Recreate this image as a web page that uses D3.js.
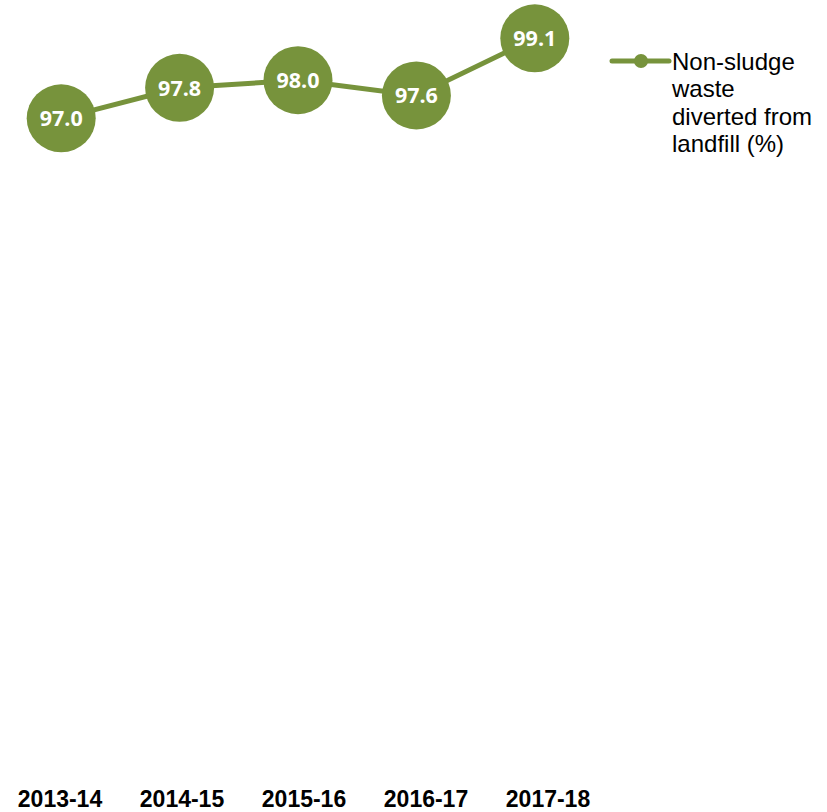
<!DOCTYPE html>
<html>
<head>
<meta charset="utf-8">
<script src="https://cdn.jsdelivr.net/npm/d3@7/dist/d3.min.js"></script>
<style>
  html, body { margin: 0; padding: 0; background: #ffffff; }
  svg { display: block; }
</style>
</head>
<body>
<svg id="chart" width="827" height="812"></svg>
<script>
const categories = ["2013-14", "2014-15", "2015-16", "2016-17", "2017-18"];
const values = [97.0, 97.8, 98.0, 97.6, 99.1];
const seriesName = ["Non-sludge", "waste", "diverted from", "landfill (%)"];
const yDomain = [80, 100];

const color = "#77933C";
const svg = d3.select("#chart");

const x = d3.scaleBand().domain(categories).range([2, 594]);
const xLabels = d3.scaleBand().domain(categories).range([-1, 609]);
const y = d3.scaleLinear().domain(yDomain).range([766, 4]);

const data = categories.map((c, i) => ({ c, v: values[i] }));

// Category axis (no line, no ticks)
const xAxis = d3.axisBottom(xLabels).tickSize(0).tickPadding(0);
const gx = svg.append("g").attr("transform", "translate(0,790)").call(xAxis);
gx.select(".domain").remove();
gx.selectAll("text")
  .attr("dy", 0).attr("y", 17)
  .attr("fill", "#000")
  .style("font-family", "'Liberation Sans', Arial, sans-serif")
  .style("font-weight", "bold")
  .style("font-size", "23px");

// Line
const line = d3.line().x(d => x(d.c) + x.bandwidth() / 2).y(d => y(d.v));
svg.append("path").datum(data)
  .attr("d", line)
  .attr("fill", "none")
  .attr("stroke", color)
  .attr("stroke-width", 5);

// Markers
const m = svg.append("g").selectAll("g").data(data).join("g")
  .attr("transform", d => `translate(${x(d.c) + x.bandwidth() / 2},${y(d.v)})`);
m.append("ellipse").attr("rx", 34.5).attr("ry", 34).attr("fill", color);
m.append("text")
  .attr("text-anchor", "middle")
  .attr("dy", "0.36em")
  .attr("fill", "#fff")
  .style("font-family", "'Open Sans', sans-serif")
  .style("font-weight", "bold")
  .style("font-size", "21.5px")
  .text(d => d.v.toFixed(1));

// Legend
const lg = svg.append("g");
lg.append("line").attr("x1", 612).attr("x2", 669).attr("y1", 61).attr("y2", 61)
  .attr("stroke", color).attr("stroke-width", 5).attr("stroke-linecap", "round");
lg.append("circle").attr("cx", 641).attr("cy", 61).attr("r", 7).attr("fill", color);
lg.append("text")
  .attr("x", 672).attr("y", 70)
  .attr("fill", "#000")
  .style("font-family", "'Liberation Sans', Arial, sans-serif")
  .style("font-size", "24px")
  .selectAll("tspan").data(seriesName).join("tspan")
  .attr("x", 672).attr("dy", (d, i) => i === 0 ? 0 : 27.3)
  .text(d => d);
</script>
</body>
</html>
